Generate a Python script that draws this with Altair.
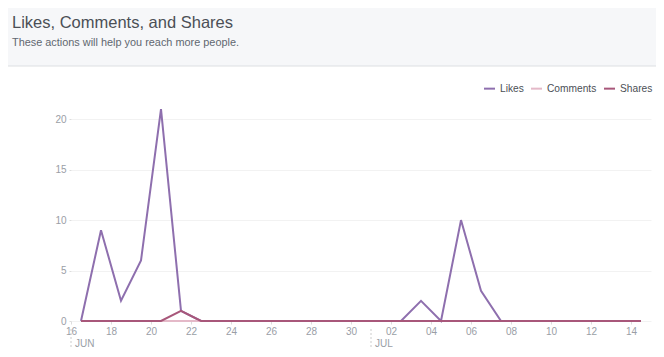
import altair as alt
import pandas as pd

# ---- data ----
dates = pd.date_range("2015-06-16 12:00", "2015-07-14 12:00", freq="D").strftime("%Y-%m-%dT%H:%M").tolist()
likes = [0, 9, 2, 6, 21, 1, 0, 0, 0, 0, 0, 0, 0, 0, 0, 0, 0, 2, 0, 10, 3, 0, 0, 0, 0, 0, 0, 0, 0]
comments = [0] * 29
shares = [0, 0, 0, 0, 0, 1, 0, 0, 0, 0, 0, 0, 0, 0, 0, 0, 0, 0, 0, 0, 0, 0, 0, 0, 0, 0, 0, 0, 0]
series_names = ["Likes", "Comments", "Shares"]
series_colors = ["#8e6fae", "#e4b9c8", "#a8577a"]
month_dates = ["2015-06-16T00:00", "2015-07-01T00:00"]
month_labels = ["JUN", "JUL"]
y_ticks = [0, 5, 10, 15, 20]

rows = []
for name, vals in zip(series_names, [likes, comments, shares]):
    for d, v in zip(dates, vals):
        rows.append({"date": d, "value": v, "series": name})
df = pd.DataFrame(rows)
months = pd.DataFrame({"date": month_dates, "label": month_labels})

W, H = 580, 222
FONT = "Liberation Sans"
GRAY = "#9a9ea6"

x_ticks = [alt.DateTime(year=2015, month=6, date=d) for d in range(16, 31, 2)] + \
          [alt.DateTime(year=2015, month=7, date=d) for d in range(2, 15, 2)]

xscale = alt.Scale(domain=[alt.DateTime(year=2015, month=6, date=16),
                           alt.DateTime(year=2015, month=7, date=15)])

lines = alt.Chart(df).mark_line(strokeWidth=2, clip=False).encode(
    x=alt.X("date:T", scale=xscale, title=None,
            axis=alt.Axis(values=x_ticks, format="%d", labelColor=GRAY, labelFontSize=10,
                          labelFont=FONT, grid=False, domain=False, tickColor="#dddddd",
                          tickSize=3, labelPadding=2, labelFlush=False)),
    y=alt.Y("value:Q", scale=alt.Scale(domain=[0, 22], nice=False), title=None,
            axis=alt.Axis(values=y_ticks, labelColor=GRAY, labelFontSize=10, labelFont=FONT,
                          grid=True, gridColor="#f2f2f2", domain=False, tickColor="#dddddd",
                          tickSize=2, labelPadding=3)),
    color=alt.Color("series:N", scale=alt.Scale(domain=series_names, range=series_colors),
                    sort=series_names,
                    legend=alt.Legend(title=None, orient="none", direction="horizontal",
                                      legendX=412, legendY=-17, symbolType="stroke",
                                      symbolStrokeWidth=2, symbolSize=121,
                                      labelFont=FONT, labelFontSize=10.2, labelColor="#4b4f56",
                                      labelOffset=4, columnPadding=3)),
    order=alt.Order("series:N"),
    detail="series:N",
)

header_bg = alt.Chart(pd.DataFrame({"a": [0]})).mark_rect(color="#f6f7f9", clip=False).encode(
    x=alt.value(-71), x2=alt.value(593), y=alt.value(-99), y2=alt.value(-33))
header_line = alt.Chart(pd.DataFrame({"a": [0]})).mark_rule(color="#dddfe2", strokeWidth=1, clip=False).encode(
    x=alt.value(-71), x2=alt.value(593), y=alt.value(-33))
title = alt.Chart(pd.DataFrame({"t": ["Likes, Comments, and Shares"]})).mark_text(
    align="left", baseline="alphabetic", font=FONT, fontSize=16.5, color="#4b4f56").encode(
    x=alt.value(-59), y=alt.value(-71), text="t:N")
subtitle = alt.Chart(pd.DataFrame({"t": ["These actions will help you reach more people."]})).mark_text(
    align="left", baseline="alphabetic", font=FONT, fontSize=10.9, color="#616770").encode(
    x=alt.value(-59), y=alt.value(-53), text="t:N")

month_rules = alt.Chart(months).mark_rule(color="#cccccc", strokeDash=[2, 2], clip=False).encode(
    x=alt.X("date:T", scale=xscale), y=alt.value(H + 8), y2=alt.value(H + 28))
month_text = alt.Chart(months).mark_text(align="left", baseline="middle", dx=4, font=FONT,
                                        fontSize=10, color=GRAY, clip=False).encode(
    x=alt.X("date:T", scale=xscale), y=alt.value(H + 22.5), text="label:N")

chart = alt.layer(header_bg, header_line, title, subtitle, lines, month_rules, month_text).properties(
    width=W, height=H,
    background="white",
    autosize=alt.AutoSizeParams(type="none"),
    padding={"left": 63, "top": 91, "right": 5, "bottom": 28},
).configure_view(strokeWidth=0, stroke="transparent")

chart.save("out.html", embed_options={"renderer": "svg", "actions": False})
